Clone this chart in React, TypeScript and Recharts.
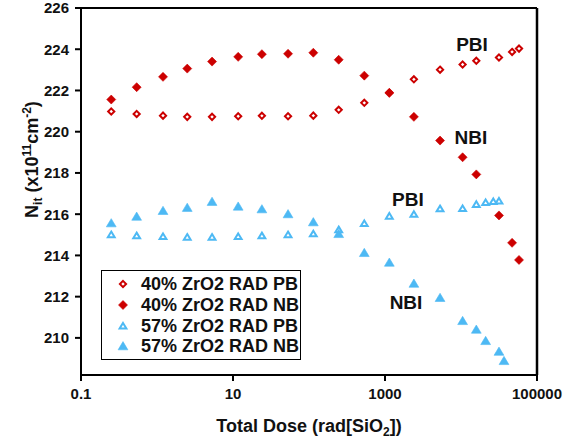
import React from 'react';
import { ScatterChart, Scatter, XAxis, YAxis, ReferenceLine, ReferenceDot, Legend } from 'recharts';

// ---- data ----
const doses40 = [0.25, 0.54, 1.2, 2.5, 5.3, 11.7, 24, 53, 114, 246, 534, 1140, 2400, 5300, 10500, 15900, 31600, 47000, 58000];
const pb40 = [220.98, 220.86, 220.78, 220.72, 220.72, 220.75, 220.77, 220.75, 220.78, 221.06, 221.4, 221.9, 222.54, 223.01, 223.26, 223.44, 223.6, 223.87, 224.03];
const nb40 = [221.56, 222.16, 222.66, 223.06, 223.4, 223.63, 223.76, 223.78, 223.83, 223.49, 222.72, 221.88, 220.72, 219.57, 218.76, 217.93, 215.94, 214.61, 213.78];

const dosesPb57 = [0.25, 0.54, 1.2, 2.5, 5.3, 11.7, 24, 53, 114, 246, 534, 1140, 2400, 5300, 10500, 15900, 21100, 26600, 31600];
const pb57 = [215.01, 214.96, 214.92, 214.89, 214.89, 214.92, 214.96, 215.01, 215.05, 215.25, 215.55, 215.91, 216.0, 216.27, 216.28, 216.48, 216.57, 216.62, 216.64];

const dosesNb57 = [0.25, 0.54, 1.2, 2.5, 5.3, 11.7, 24, 53, 114, 246, 534, 1140, 2400, 5300, 10500, 15900, 21100, 31600, 36800];
const nb57 = [215.57, 215.89, 216.17, 216.32, 216.61, 216.38, 216.25, 216.01, 215.62, 215.05, 214.13, 213.66, 212.64, 211.95, 210.83, 210.41, 209.86, 209.34, 208.89];

const xTicks = [0.1, 10, 1000, 100000];
const yTicks = [210, 212, 214, 216, 218, 220, 222, 224, 226];
const xDomain = [0.1, 100000];
const yDomain = [208.2, 226];

const annotations = [
  { text: 'PBI', x: 13960, y: 224.23 },
  { text: 'NBI', x: 13500, y: 219.71 },
  { text: 'PBI', x: 2000, y: 216.7 },
  { text: 'NBI', x: 1890, y: 211.75 },
];

const RED = '#CC0000';
const BLUE = '#4DB9F4';
const FONT = '"Liberation Sans", Arial, Helvetica, sans-serif';

const toPoints = (xs: number[], ys: number[]) => xs.map((x, i) => ({ x, y: ys[i] }));

type Kind = 'diamond' | 'triangle';

const symbolPath = (kind: Kind, open: boolean, cx: number, cy: number) => {
  if (kind === 'diamond') {
    const r = open ? 3.1 : 4.5;
    return `M${cx},${cy - r}L${cx + r},${cy}L${cx},${cy + r}L${cx - r},${cy}Z`;
  }
  const w = open ? 3.4 : 4.9;
  const top = open ? 3.0 : 4.4;
  const bot = open ? 2.6 : 3.8;
  return `M${cx},${cy - top}L${cx + w},${cy + bot}L${cx - w},${cy + bot}Z`;
};

const makeShape = (kind: Kind, color: string, open: boolean) => (props: any) => {
  const { cx, cy } = props;
  if (cx == null || cy == null) return <g />;
  return (
    <path
      d={symbolPath(kind, open, cx, cy)}
      fill={open ? '#ffffff' : color}
      stroke={color}
      strokeWidth={open ? 2 : 0.6}
      strokeLinejoin="miter"
    />
  );
};

const series = [
  { name: '40% ZrO2 RAD PB', data: toPoints(doses40, pb40), kind: 'diamond' as Kind, color: RED, open: true },
  { name: '40% ZrO2 RAD NB', data: toPoints(doses40, nb40), kind: 'diamond' as Kind, color: RED, open: false },
  { name: '57% ZrO2 RAD PB', data: toPoints(dosesPb57, pb57), kind: 'triangle' as Kind, color: BLUE, open: true },
  { name: '57% ZrO2 RAD NB', data: toPoints(dosesNb57, nb57), kind: 'triangle' as Kind, color: BLUE, open: false },
];

const LegendBox = () => (
  <div
    style={{
      border: '1.5px solid #000',
      boxSizing: 'border-box',
      width: 200,
      height: 90,
      paddingTop: 3,
      background: '#fff',
      fontFamily: FONT,
    }}
  >
    {series.map((s) => (
      <div key={s.name} style={{ height: 20.7, display: 'flex', alignItems: 'center' }}>
        <svg width={14} height={14} style={{ marginLeft: 14, marginRight: 11, flexShrink: 0 }}>
          <path
            d={symbolPath(s.kind, s.open, 7, 7)}
            fill={s.open ? '#fff' : s.color}
            stroke={s.color}
            strokeWidth={s.open ? 2 : 0.6}
          />
        </svg>
        <span style={{ fontSize: 18, fontWeight: 'bold', color: '#111', whiteSpace: 'nowrap', lineHeight: '20px' }}>{s.name}</span>
      </div>
    ))}
  </div>
);

const XTitle = (props: any) => {
  const vb = props.viewBox || { x: 81, y: 375, width: 456, height: 67 };
  return (
    <text
      x={vb.x + vb.width / 2}
      y={vb.y + 57}
      textAnchor="middle"
      fontSize={18}
      fontWeight="bold"
      fill="#111"
      style={{ fontFamily: FONT }}
    >
      Total Dose (rad[SiO
      <tspan dy={4} fontSize={12}>2</tspan>
      <tspan dy={-4}>])</tspan>
    </text>
  );
};

const YTitle = (props: any) => {
  const vb = props.viewBox || { x: 0, y: 8, width: 81, height: 367 };
  const x0 = vb.x + 38;
  const y0 = vb.y + vb.height / 2 - 32;
  return (
    <text
      x={x0}
      y={y0}
      transform={`rotate(-90 ${x0} ${y0})`}
      textAnchor="middle"
      fontSize={18}
      fontWeight="bold"
      fill="#111"
      style={{ fontFamily: FONT }}
    >
      N
      <tspan dy={4} fontSize={12}>it</tspan>
      <tspan dy={-4}> (x10</tspan>
      <tspan dy={-7} fontSize={12}>11</tspan>
      <tspan dy={7}>cm</tspan>
      <tspan dy={-7} fontSize={12}>-2</tspan>
      <tspan dy={7}>)</tspan>
    </text>
  );
};

const tickStyle = { fontSize: 15, fontWeight: 'bold', fill: '#111', fontFamily: FONT } as any;

export default function App() {
  return (
    <div style={{ position: 'absolute', left: 0, top: 0, fontFamily: FONT, background: '#fff' }}>
      <ScatterChart width={573} height={442} margin={{ top: 8, right: 36, bottom: 0, left: 0 }}>
        <XAxis
          type="number"
          dataKey="x"
          scale="log"
          domain={xDomain}
          ticks={xTicks}
          allowDataOverflow
          height={67}
          tickFormatter={(v: number) => (v < 1 ? String(v) : String(Math.round(v)))}
          tick={tickStyle}
          tickSize={6}
          tickMargin={7}
          axisLine={{ stroke: '#000', strokeWidth: 2 }}
          tickLine={{ stroke: '#000', strokeWidth: 2 }}
          interval={0}
          label={<XTitle />}
        />
        <YAxis
          type="number"
          dataKey="y"
          domain={yDomain}
          ticks={yTicks}
          allowDataOverflow
          width={81}
          tick={tickStyle}
          tickSize={6}
          tickMargin={6}
          axisLine={{ stroke: '#000', strokeWidth: 2 }}
          tickLine={{ stroke: '#000', strokeWidth: 2 }}
          interval={0}
          label={<YTitle />}
        />
        <ReferenceLine y={226} stroke="#000" strokeWidth={2} ifOverflow="visible" />
        <ReferenceLine x={100000} stroke="#000" strokeWidth={2.5} ifOverflow="visible" />
        {series.map((s) => (
          <Scatter
            key={s.name}
            name={s.name}
            data={s.data}
            shape={makeShape(s.kind, s.color, s.open)}
            isAnimationActive={false}
          />
        ))}
        {annotations.map((a, i) => (
          <ReferenceDot
            key={i}
            x={a.x}
            y={a.y}
            r={0}
            fill="none"
            stroke="none"
            label={{ value: a.text, position: 'center', fontSize: 19, fontWeight: 'bold', fill: '#111', fontFamily: FONT }}
          />
        ))}
        <Legend
          layout="vertical"
          align="center"
          verticalAlign="middle"
          content={() => <LegendBox />}
          wrapperStyle={{ left: 101, top: 270, width: 200, height: 90 }}
        />
      </ScatterChart>
    </div>
  );
}
